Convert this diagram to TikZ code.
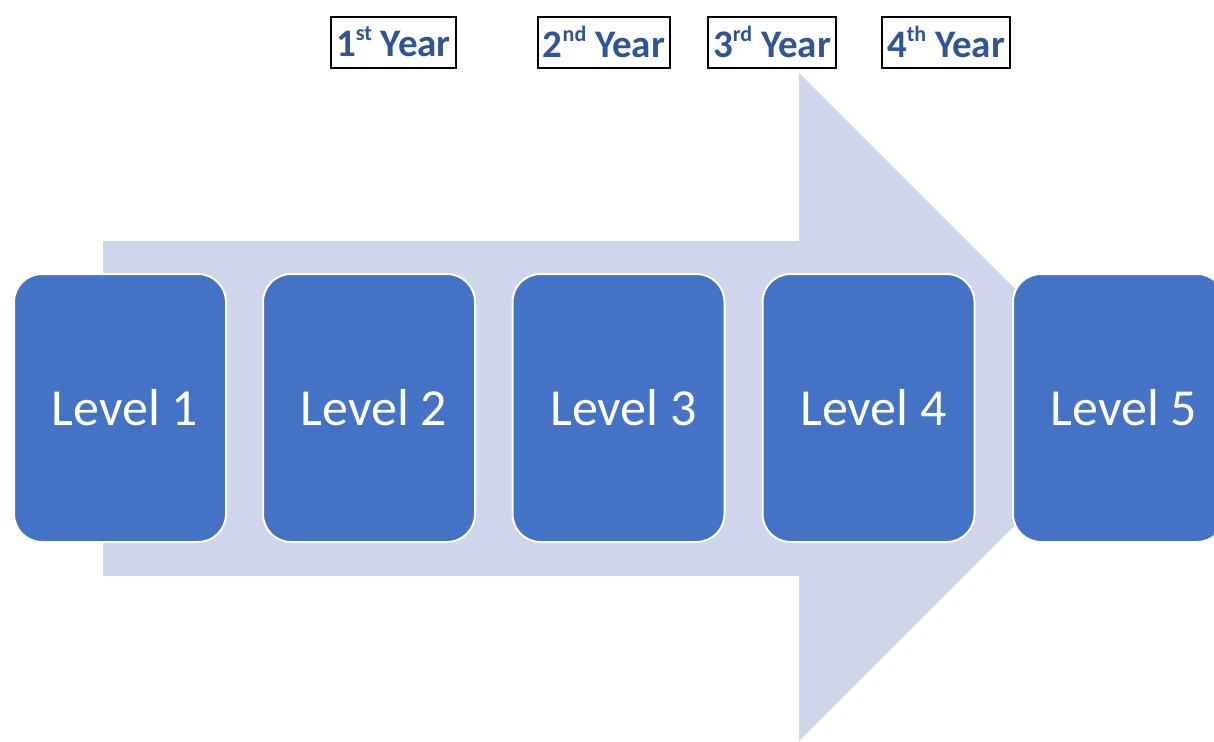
\documentclass[tikz,border=0pt]{standalone}
\usepackage{fontspec}
\setmainfont{Carlito}
\definecolor{boxblue}{HTML}{4472C4}
\definecolor{arrowfill}{HTML}{CFD5EA}
\definecolor{yeartext}{HTML}{2F5597}
\newcommand{\yrsup}[1]{\raisebox{0.42em}{\fontsize{22}{24}\selectfont #1}}
\begin{document}
\begin{tikzpicture}[x=1pt,y=-1pt,
  levelbox/.style={fill=boxblue,draw=white,line width=2pt,rounded corners=28pt,
    minimum width=212pt,minimum height=268pt,inner sep=0pt,text=white,
    font=\fontsize{52}{60}\selectfont},
  yearbox/.style={draw=black,line width=1.6pt,minimum height=51pt,inner sep=0pt,
    text=yeartext,font=\fontsize{39}{44}\selectfont\bfseries}]
\useasboundingbox (0,0) rectangle (1214,741);
\clip (0,0) rectangle (1214,741);
\fill[arrowfill] (103,241) -- (799,241) -- (799,73) -- (1133,407) -- (799,741) -- (799,576) -- (103,576) -- cycle;
\node[levelbox] (l1) at (120,408) {\hspace*{10pt}Level 1};
\node[levelbox] (l2) at (369,408) {\hspace*{10pt}Level 2};
\node[levelbox] (l3) at (618.5,408) {\hspace*{10pt}Level 3};
\node[levelbox] (l4) at (868.5,408) {\hspace*{10pt}Level 4};
\node[levelbox] (l5) at (1119,408) {\hspace*{10pt}Level 5};
\node[yearbox,minimum width=125pt] (y1) at (393.5,42.5) {\raisebox{2pt}{1\yrsup{st} Year}};
\node[yearbox,minimum width=132pt] (y2) at (604,42.5) {\raisebox{2pt}{2\yrsup{nd} Year}};
\node[yearbox,minimum width=128pt] (y3) at (772,42.5) {\raisebox{2pt}{3\yrsup{rd} Year}};
\node[yearbox,minimum width=128pt] (y4) at (946,42.5) {\raisebox{2pt}{4\yrsup{th} Year}};
\end{tikzpicture}
\end{document}
